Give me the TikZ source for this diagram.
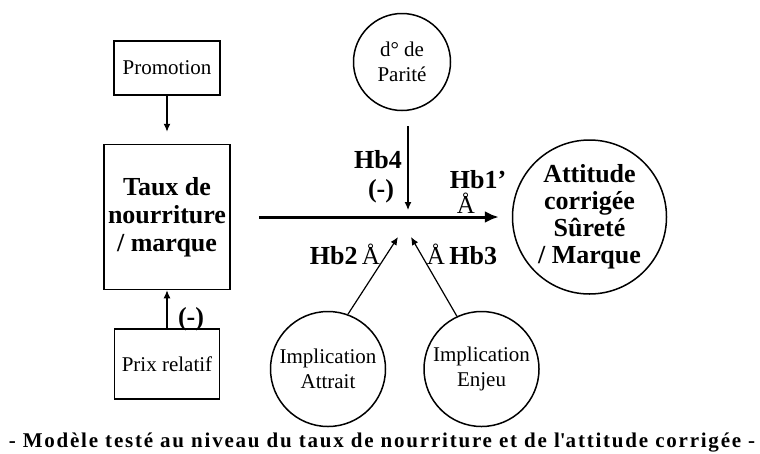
\documentclass[tikz,border=0pt]{standalone}
\usepackage{fontspec}
\setmainfont{Liberation Serif}
\newfontfamily\captionfont[LetterSpace=8.5]{Liberation Serif}
\usetikzlibrary{arrows.meta, positioning}
\newcommand{\regtext}{\fontsize{21}{25}\selectfont}
\newcommand{\boldtext}{\fontsize{26}{28}\selectfont\bfseries}
\newcommand{\signtext}{\fontsize{25}{25}\selectfont\mdseries}

\begin{document}
\begin{tikzpicture}[x=1pt, y=-1pt,
			every node/.style={align=center},
			box/.style={draw, line width=1.5pt, rectangle, font=\regtext},
			bubble/.style={draw, line width=1.5pt, circle, inner sep=0pt, font=\regtext},
			link/.style={-{Latex[length=8pt,width=7pt]}, line width=1.2pt},
			mainlink/.style={-{Latex[length=14pt,width=12pt]}, line width=3pt},
			hb/.style={font=\boldtext, inner sep=0pt}
		]
			\useasboundingbox (0,0) rectangle (760,453);

			\node (taux) [box, font=\boldtext, minimum width=126pt, minimum height=145pt] at (167,217) {Taux de\\nourriture\\/ marque};
			\node (promo) [box, above=48pt of taux, minimum width=106pt, minimum height=54pt] {Promotion};
			\node (prix) [box, below=38pt of taux, minimum width=105pt, minimum height=70pt] {Prix relatif};

			\node (attitude) [bubble, font=\fontsize{26}{27}\selectfont\bfseries, minimum size=154pt, right=281pt of taux] {Attitude\\corrigée\\Sûreté\\/ Marque};
			\node (parite) [bubble, minimum size=97pt] at (402,62) {d° de\\Parité};
			\node (attrait) [bubble, minimum size=115pt] at (328,369) {Implication\\Attrait};
			\node (enjeu) [bubble, minimum size=115pt, right=37pt of attrait] {Implication\\Enjeu};

			\coordinate (hit) at (408,216);
			\coordinate (hb2end) at (398,237);
			\coordinate (hb3end) at (411,237);

			\node (Hb4Legend) [hb] at (378,160) {Hb4};
			\node (Hb4Sign) [hb] at (381,191) {(-)};
			\node (Hb1Legend) [hb] at (478,180) {Hb1’};
			\node (Hb1Sign) [font=\signtext, inner sep=0pt] at (466,203) {Å};
			\node (Hb2Legend) [hb] at (345,254) {Hb2\,{\signtext Å}};
			\node (Hb3Legend) [hb] at (462,254) {{\signtext Å}\,Hb3};
			\node (PrixSign) [hb] at (191,319) {(-)};

			\node (caption) [font=\fontsize{21}{21}\selectfont\captionfont\bfseries, anchor=base, inner sep=0pt] at (382,447) {- Modèle testé au niveau du taux de nourriture et de l\textquotesingle attitude corrigée -};

			\draw[mainlink, shorten <=28pt, shorten >=13pt] (taux) -- (attitude);
			\draw[link, shorten >=12pt] (promo) -- (taux);
			\draw[link] (prix) -- (taux);
			\draw[link, shorten <=15pt, shorten >=6pt] (hit |- parite.south) -- (hit);
			\draw[link] (attrait.70) -- (hb2end);
			\draw[link] (enjeu.115) -- (hb3end);
		\end{tikzpicture}
\end{document}
